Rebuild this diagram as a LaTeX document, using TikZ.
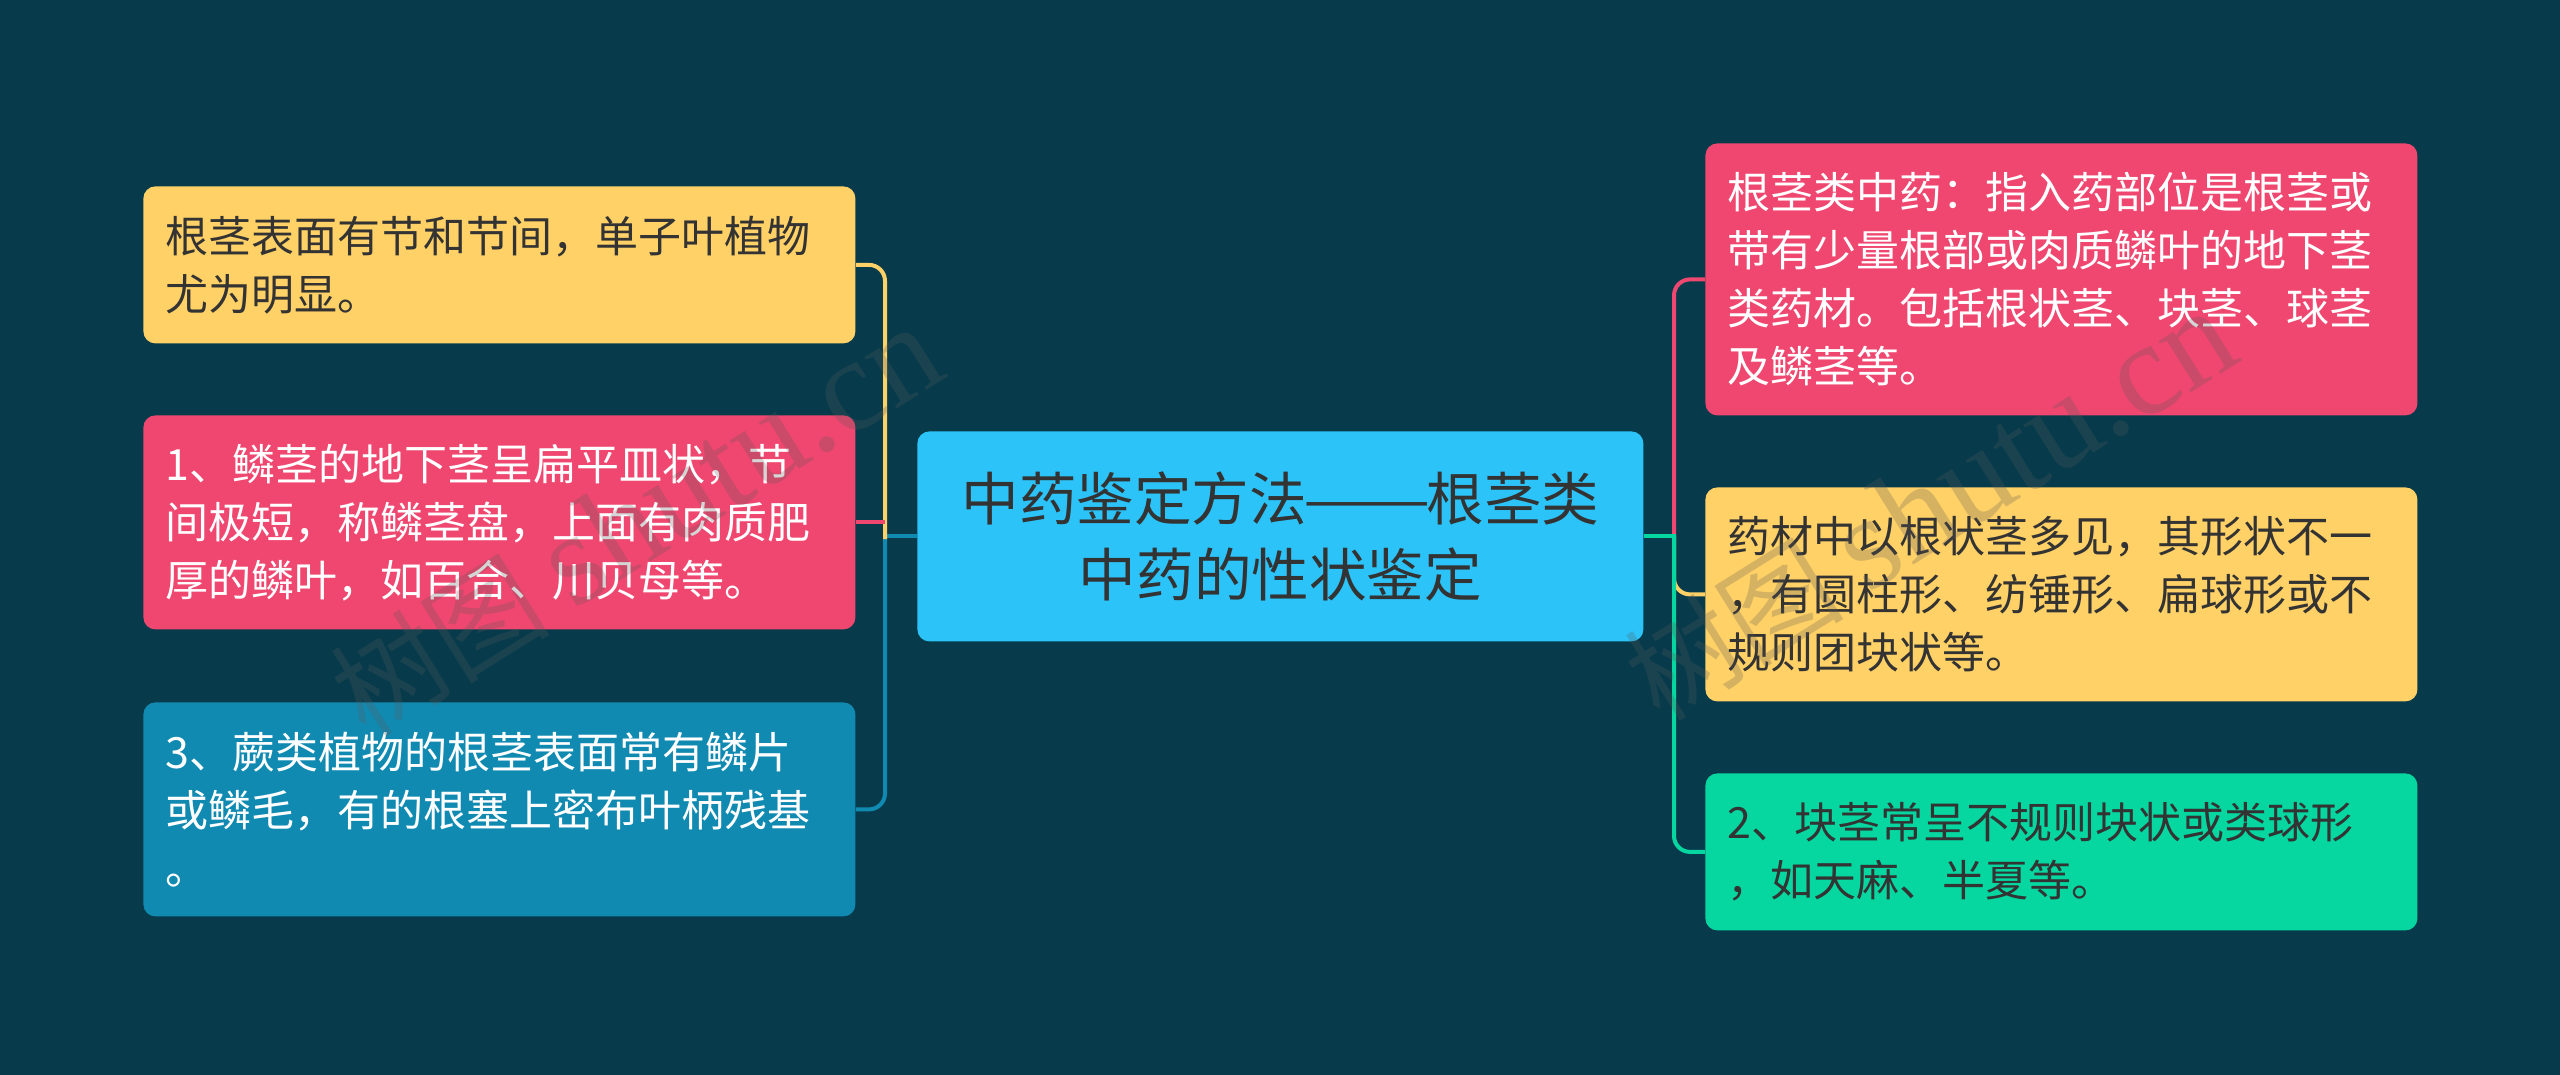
\documentclass[tikz,border=0pt]{standalone}
\usepackage{fontspec}
\setmainfont{Noto Sans CJK SC}
\newfontfamily\markfont{Liberation Serif}
\definecolor{deep}{HTML}{073B4C}
\definecolor{sky}{HTML}{2CC3F8}
\definecolor{sun}{HTML}{FFD166}
\definecolor{rose}{HTML}{EF476F}
\definecolor{mint}{HTML}{06D6A0}
\definecolor{sea}{HTML}{118AB2}
\definecolor{ink}{HTML}{333333}
\tikzset{
  topic/.style={anchor=north west,rounded corners=6pt,inner sep=0pt,align=left,
    font=\fontsize{21.5pt}{29pt}\selectfont},
  sidebox/.style={topic,minimum width=356pt,text width=334pt},
  link/.style={line width=2pt,rounded corners=8pt},
  mark text/.style={font=\fontsize{55pt}{60pt}\selectfont,rotate=32,text=gray!70!black,opacity=.25}
}
\begin{document}
\begin{tikzpicture}[x=.5pt,y=-.5pt]
  \useasboundingbox[fill=deep] (0,0) rectangle (2560,1075);
  % centre
  \node[topic,fill=sky,text=ink,minimum width=363pt,minimum height=105pt,text width=363pt,align=center,
    font=\fontsize{28.8pt}{37.7pt}\selectfont] (root) at (917,431) {中药鉴定方法\kern-2pt\scalebox{1.32}[1]{——}\kern-2pt根茎类\\中药的性状鉴定};
  % left side
  \node[sidebox,fill=sun,text=ink,minimum height=78.5pt] (l1) at (143,186) {根茎表面有节和节间，单子叶植物\\尤为明显。};
  \node[sidebox,fill=rose,text=white,minimum height=107pt] (l2) at (143,415) {1、鳞茎的地下茎呈扁平皿状，节\\间极短，称鳞茎盘，上面有肉质肥\\厚的鳞叶，如百合、川贝母等。};
  \node[sidebox,fill=sea,text=white,minimum height=107pt] (l3) at (143,702) {3、蕨类植物的根茎表面常有鳞片\\或鳞毛，有的根塞上密布叶柄残基\\。};
  % right side
  \node[sidebox,fill=rose,text=white,minimum height=136pt] (r1) at (1705,143) {根茎类中药：指入药部位是根茎或\\带有少量根部或肉质鳞叶的地下茎\\类药材。包括根状茎、块茎、球茎\\及鳞茎等。};
  \node[sidebox,fill=sun,text=ink,minimum height=107pt] (r2) at (1705,487) {药材中以根状茎多见，其形状不一\\，有圆柱形、纺锤形、扁球形或不\\规则团块状等。};
  \node[sidebox,fill=mint,text=ink,minimum height=78.5pt] (r3) at (1705,773) {2、块茎常呈不规则块状或类球形\\，如天麻、半夏等。};
  % links
  \coordinate (lmid) at (885,536);
  \coordinate (rmid) at (1674,536);
  \draw[link,sea] (root.west |- lmid) -- (lmid);
  \draw[link,sea] (lmid) |- (l3.east);
  \draw[link,sun] (lmid) ++(0,3) |- (l1.east);
  \draw[link,rose] (l2.east) -- (l2.east -| lmid);
  \draw[link,rose] (rmid) |- (r1.west);
  \draw[link,sun] (rmid) |- (r2.west);
  \draw[link,mint] (rmid) ++(0,-2) |- (r3.west);
  \draw[link,mint] (root.east |- rmid) -- (rmid);
  % watermarks
  \node[mark text] (w1) at (636,522) {树图 {\markfont\fontsize{66pt}{66pt}\selectfont shutu.cn}};
  \node[mark text] (w2) at (1930,506) {树图 {\markfont\fontsize{66pt}{66pt}\selectfont shutu.cn}};
\end{tikzpicture}
\end{document}
